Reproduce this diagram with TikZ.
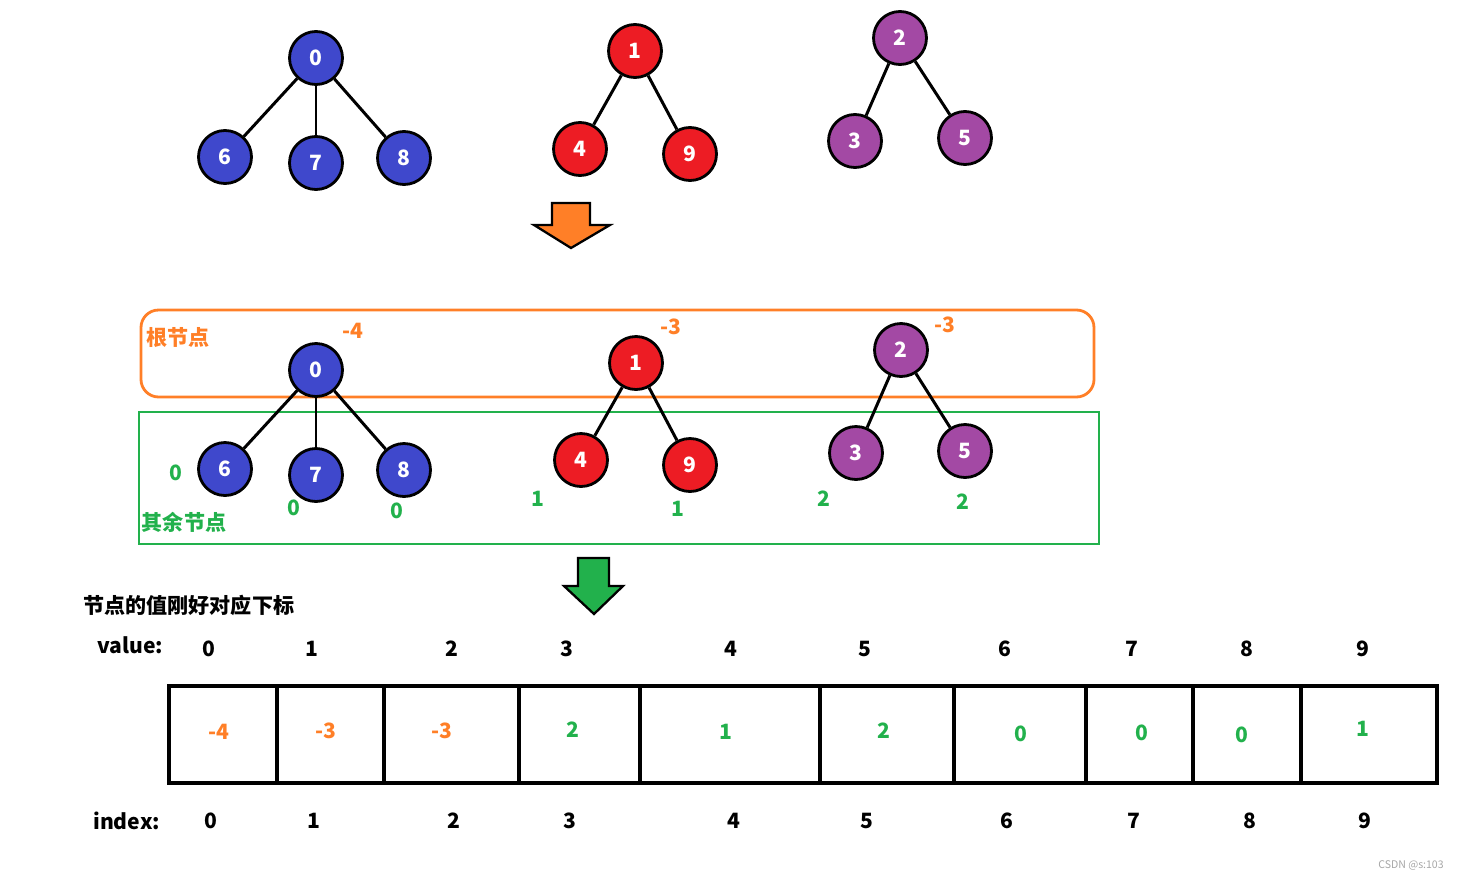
\documentclass[tikz,border=0pt]{standalone}
\usepackage{fontspec}
\setmainfont{Noto Sans CJK SC}
\definecolor{setblue}{HTML}{3F48CC}
\definecolor{setred}{HTML}{ED1C24}
\definecolor{setpurple}{HTML}{A349A4}
\definecolor{rootorange}{HTML}{FF7F27}
\definecolor{restgreen}{HTML}{22B14C}
\begin{document}
\begin{tikzpicture}[
    x=0.02cm, y=-0.02cm,
    vtx/.style={circle, draw, line width=1.6pt, minimum size=1.06cm, inner sep=0pt, text=white, font=\bfseries\fontsize{12}{14}\selectfont},
    bluevtx/.style={vtx, fill=setblue},
    redvtx/.style={vtx, fill=setred},
    purplevtx/.style={vtx, fill=setpurple},
    edge/.style={line width=1.7pt},
    lbl/.style={font=\bfseries\fontsize{12}{14}\selectfont},
    rootnum/.style={lbl, text=rootorange},
    restnum/.style={lbl, text=restgreen},
    cell/.style={draw, line width=1.8pt, inner sep=0pt, outer sep=0pt, anchor=north west, minimum height=1.94cm},
    bigarrow/.style={draw, line width=1.3pt, line join=miter}
  ]
  \useasboundingbox (0,0) rectangle (1462,879);

  % Three separate trees
  \node[bluevtx] (a0) at (316,58) {0};
  \node[bluevtx] (a6) at (225,157) {6};
  \node[bluevtx] (a7) at (316,163) {7};
  \node[bluevtx] (a8) at (404,158) {8};
  \node[redvtx] (a1) at (635,51) {1};
  \node[redvtx] (a4) at (580,149) {4};
  \node[redvtx] (a9) at (690,154) {9};
  \node[purplevtx] (a2) at (900,38) {2};
  \node[purplevtx] (a3) at (855,141) {3};
  \node[purplevtx] (a5) at (965,138) {5};
  \foreach \p/\c in {0/6, 0/7, 0/8, 1/4, 1/9, 2/3, 2/5}
    \draw[edge] (a\p) -- (a\c);

  % Orange arrow
  \draw[bigarrow, fill=rootorange] (552,203) -- (590,203) -- (590,225) -- (610,225)
    -- (571,248) -- (534,225) -- (552,225) -- cycle;

  % Root box and other-nodes box
  \draw[rootorange, line width=1.6pt, rounded corners=10pt] (141,310) rectangle (1094,397);
  \draw[restgreen, line width=1.6pt] (139,412) rectangle (1099,544);
  \node[lbl, text=rootorange] (rootlbl) at (178,338) {根节点};
  \node[lbl, text=restgreen] (restlbl) at (184,522) {其余节点};

  % Same trees, split in roots and others
  \node[bluevtx] (b0) at (316,370) {0};
  \node[bluevtx] (b6) at (225,469) {6};
  \node[bluevtx] (b7) at (316,475) {7};
  \node[bluevtx] (b8) at (404,470) {8};
  \node[redvtx] (b1) at (636,363) {1};
  \node[redvtx] (b4) at (581,460) {4};
  \node[redvtx] (b9) at (690,465) {9};
  \node[purplevtx] (b2) at (901,350) {2};
  \node[purplevtx] (b3) at (856,453) {3};
  \node[purplevtx] (b5) at (965,451) {5};
  \foreach \p/\c in {0/6, 0/7, 0/8, 1/4, 1/9, 2/3, 2/5}
    \draw[edge] (b\p) -- (b\c);

  % Stored values
  \node[rootnum] (s0) at (353,331) {-4};
  \node[rootnum] (s1) at (671,327) {-3};
  \node[rootnum] (s2) at (945,325) {-3};
  \node[restnum] (s6) at (176,473) {0};
  \node[restnum] (s7) at (294,508) {0};
  \node[restnum] (s8) at (397,511) {0};
  \node[restnum] (s4) at (538,499) {1};
  \node[restnum] (s9) at (678,509) {1};
  \node[restnum] (s3) at (824,499) {2};
  \node[restnum] (s5) at (963,502) {2};

  % Green arrow
  \draw[bigarrow, fill=restgreen] (578,558) -- (609,558) -- (609,586) -- (623,586)
    -- (594,614) -- (564,586) -- (578,586) -- cycle;

  % Array
  \node[lbl, anchor=west, inner sep=0pt] (title) at (83,605) {节点的值刚好对应下标};
  \node[lbl, anchor=west, inner sep=0pt] (valuelbl) at (97,645) {value:};
  \node[lbl, anchor=west, inner sep=0pt] (indexlbl) at (93,821) {index:};
  \foreach \x [count=\i from 0] in {209,312,452,567,731,865,1005,1132,1247,1363}
    \node[lbl] (v\i) at (\x,649) {\i};
  \foreach \l/\r [count=\i from 0] in {169/277, 277/384, 384/519, 519/640, 640/820,
      820/954, 954/1086, 1086/1193, 1193/1301, 1301/1437}
    \node[cell, minimum width={(\r-\l)*0.02cm}] (c\i) at (\l,686) {};
  \foreach \x/\y/\val/\col [count=\i from 0] in {219/732/-4/rootorange, 326/731/-3/rootorange,
      442/731/-3/rootorange, 573/730/2/restgreen, 726/732/1/restgreen, 884/731/2/restgreen,
      1021/734/0/restgreen, 1142/733/0/restgreen, 1242/735/0/restgreen, 1363/729/1/restgreen}
    \node[lbl, text=\col] (n\i) at (\x,\y) {\val};
  \foreach \x [count=\i from 0] in {211,314,454,570,734,867,1007,1134,1250,1365}
    \node[lbl] (i\i) at (\x,821) {\i};

  \node[text=gray!70, font=\fontsize{6}{7}\selectfont] (mark) at (1411,865) {CSDN @s:103};
\end{tikzpicture}
\end{document}
